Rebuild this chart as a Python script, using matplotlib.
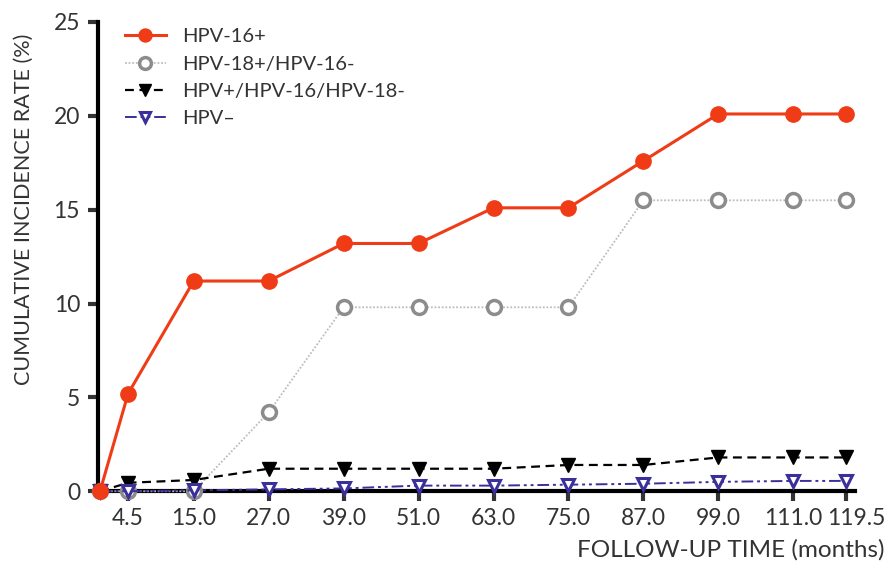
import matplotlib
matplotlib.use("Agg")
import matplotlib.pyplot as plt
from matplotlib.transforms import ScaledTranslation

# data
months = [0, 4.5, 15.0, 27.0, 39.0, 51.0, 63.0, 75.0, 87.0, 99.0, 111.0, 119.5]
tick_labels = ["4.5", "15.0", "27.0", "39.0", "51.0", "63.0", "75.0",
               "87.0", "99.0", "111.0", "119.5"]
hpv16 = [0, 5.2, 11.2, 11.2, 13.2, 13.2, 15.1, 15.1, 17.6, 20.1, 20.1, 20.1]
hpv18 = [0, 0, 0, 4.2, 9.8, 9.8, 9.8, 9.8, 15.5, 15.5, 15.5, 15.5]
hpv_other = [0, 0.45, 0.6, 1.2, 1.2, 1.2, 1.2, 1.4, 1.4, 1.8, 1.8, 1.8]
hpv_neg = [0, 0.0, 0.05, 0.1, 0.15, 0.3, 0.3, 0.35, 0.4, 0.5, 0.55, 0.55]

plt.rcParams["font.family"] = ["Lato", "DejaVu Sans"]
TXT = "#333333"

fig = plt.figure(figsize=(8.92, 5.64), dpi=100)
ax = fig.add_axes([0.110, 0.129, 0.848, 0.832])

ax.plot(months, hpv18, color="#bdbdbd", lw=1.3, ls=(0, (1, 1)),
        marker="o", ms=10, mfc="white", mec="#8c8c8c", mew=2.5,
        label="HPV-18+/HPV-16-", clip_on=False, zorder=3)
ax.plot(months, hpv_other, color="black", lw=1.6, ls=(0, (4, 2.5)),
        marker="v", ms=10, mfc="black", mec="black",
        label="HPV+/HPV-16/HPV-18-", clip_on=False, zorder=4)
ax.plot(months, hpv_neg, color="#3b2f9a", lw=1.4, ls=(0, (6, 2, 1.5, 2, 1.5, 2)),
        marker="v", ms=9, mfc="white", mec="#3b2f9a", mew=2.2,
        label="HPV\u2013", clip_on=False, zorder=5)
ax.plot(months, hpv16, color="#ef3b16", lw=2.2,
        marker="o", ms=11, mfc="#ef3b16", mec="#ef3b16",
        label="HPV-16+", clip_on=False, zorder=6)

ax.set_xlim(-0.3, 120.8)
ax.set_ylim(0, 25)
ax.set_xticks(months[1:])
ax.set_xticklabels(tick_labels)
ax.set_yticks([0, 5, 10, 15, 20, 25])

for s in ["top", "right"]:
    ax.spines[s].set_visible(False)
for s in ["left", "bottom"]:
    ax.spines[s].set_linewidth(3)
ax.tick_params(axis="both", width=3, length=7, labelsize=16.5, colors=TXT)
ax.tick_params(axis="x", pad=5)
ax.tick_params(axis="y", pad=6)

# last tick label sits a little right of its tick in the reference
last = ax.get_xticklabels()[-1]
last.set_transform(last.get_transform() + ScaledTranslation(0.1, 0, fig.dpi_scale_trans))

ax.set_ylabel("CUMULATIVE INCIDENCE RATE (%)", fontsize=15.5, color=TXT)
ax.yaxis.set_label_coords(-0.112, 0.6)
ax.yaxis.label.set_verticalalignment("top")
ax.set_xlabel("FOLLOW-UP TIME (months)", fontsize=17.5, color=TXT)
ax.xaxis.set_label_coords(1.04, -0.125)
ax.xaxis.label.set_horizontalalignment("right")
ax.xaxis.label.set_verticalalignment("center")

order = ["HPV-16+", "HPV-18+/HPV-16-", "HPV+/HPV-16/HPV-18-", "HPV\u2013"]
handles, labels = ax.get_legend_handles_labels()
lookup = dict(zip(labels, handles))
leg = ax.legend([lookup[k] for k in order], order, loc="upper left",
                bbox_to_anchor=(0.012, 1.025), frameon=False, fontsize=14.5,
                handlelength=2.0, handletextpad=0.8, labelspacing=0.5,
                markerscale=0.85)
for t in leg.get_texts():
    t.set_color(TXT)

fig.savefig("out.png", dpi=100)
